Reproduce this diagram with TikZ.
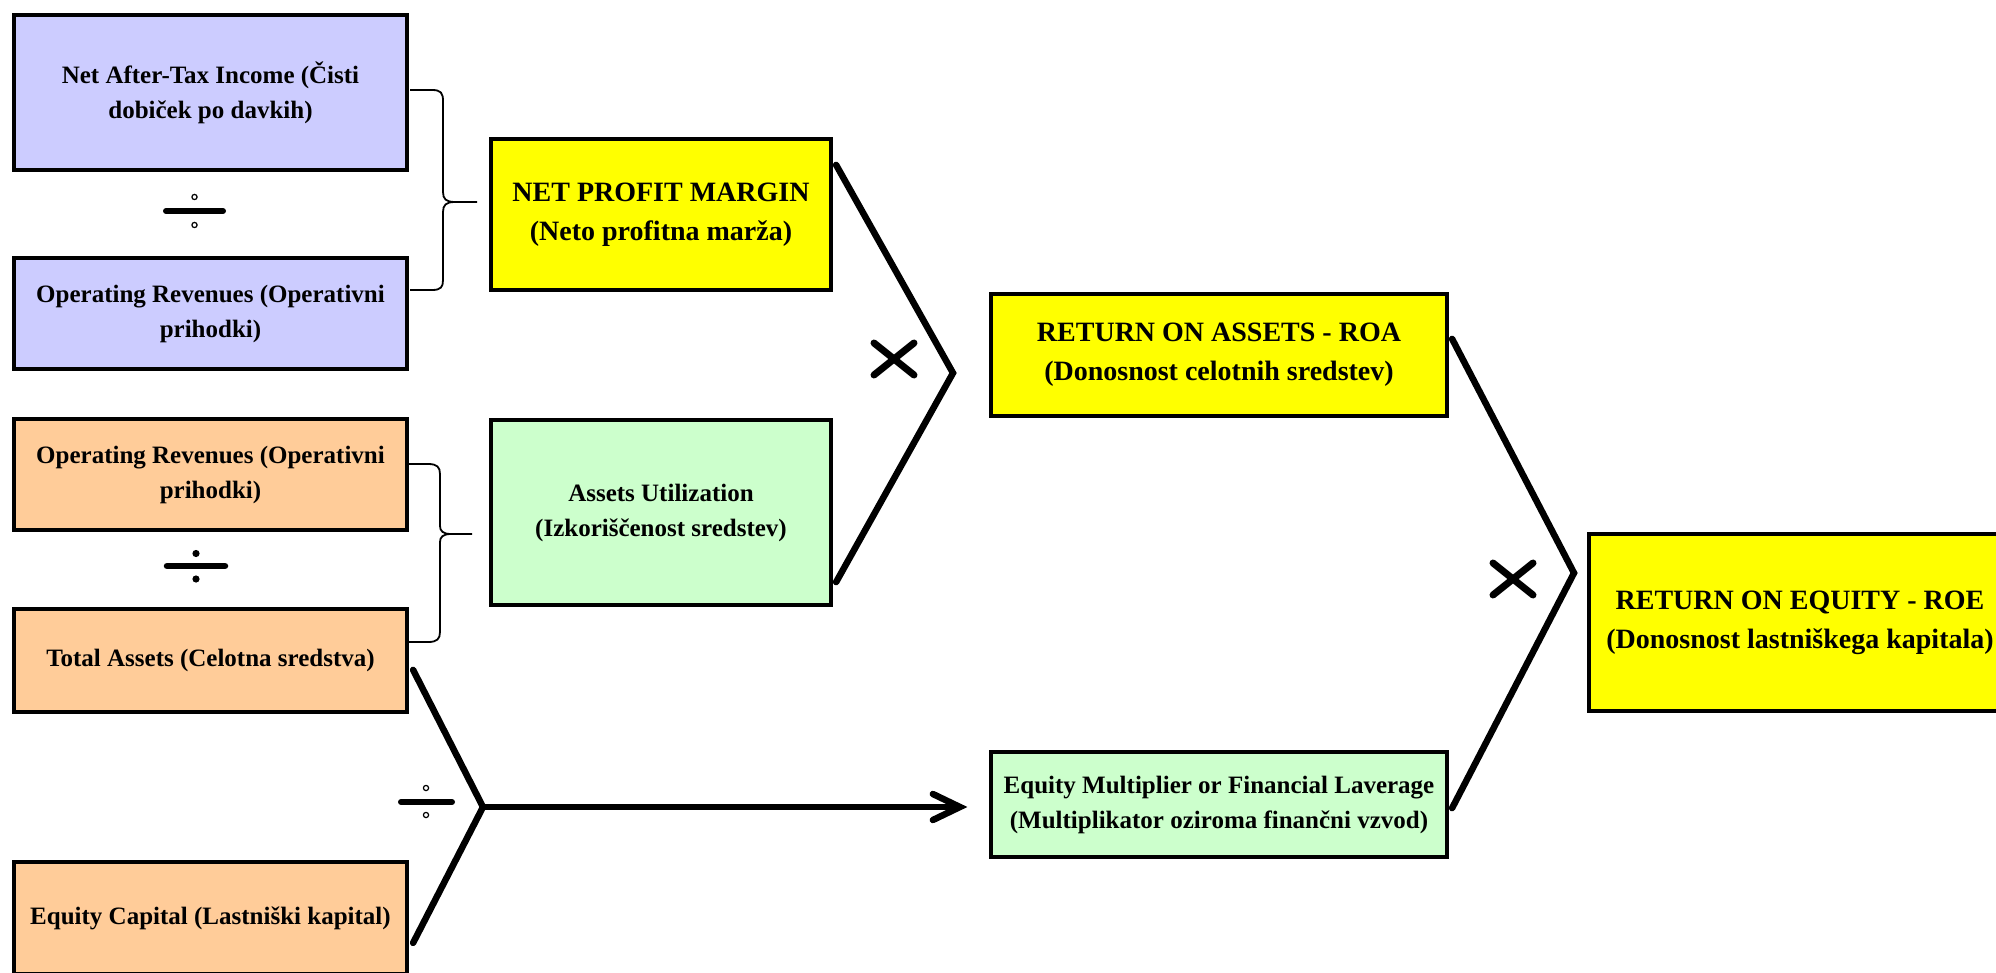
\documentclass[tikz,border=0pt]{standalone}
\usepackage{fontspec}
\setmainfont{Liberation Serif}
\usetikzlibrary{calc}
\definecolor{lav}{HTML}{CCCCFF}
\definecolor{peach}{HTML}{FFCC99}
\definecolor{mint}{HTML}{CCFFCC}
\definecolor{yel}{HTML}{FFFF00}
\begin{document}
\begin{tikzpicture}[x=1pt,y=-1pt,
 box/.style={draw=black, line width=4.2pt, inner sep=0pt, align=center, font=\bfseries\fontsize{25}{35}\selectfont},
 bigbox/.style={box, font=\bfseries\fontsize{28}{39}\selectfont},
 heavy/.style={line width=6.5pt, line cap=round, line join=miter},
 bracepath/.style={line width=1.8pt},
 divbar/.style={line width=6pt, line cap=round},
 hollowdot/.style={draw=black, fill=white, line width=1.2pt},
 timesmark/.style={line width=7pt, line cap=round}]
\useasboundingbox (0,0) rectangle (1996,973);
\clip (0,0) rectangle (1996,973);

% left boxes
\node[box, fill=lav, minimum width=393pt, minimum height=155pt] (ni) at (210.5,92.5) {Net After-Tax Income (Čisti\\dobiček po davkih)};
\node[box, fill=lav, minimum width=393pt, minimum height=111pt] (or1) at (210.5,313.5) {Operating Revenues (Operativni\\prihodki)};
\node[box, fill=peach, minimum width=393pt, minimum height=111pt] (or2) at (210.5,474.5) {Operating Revenues (Operativni\\prihodki)};
\node[box, fill=peach, minimum width=393pt, minimum height=103pt] (ta) at (210.5,660.5) {Total Assets (Celotna sredstva)};
\node[box, fill=peach, minimum width=393pt, minimum height=112pt] (ec) at (210.5,918) {Equity Capital (Lastniški kapital)};

% middle boxes
\node[bigbox, fill=yel, minimum width=340pt, minimum height=151pt] (npm) at (661,214.5) {NET PROFIT MARGIN\\(Neto profitna marža)};
\node[box, fill=mint, minimum width=340pt, minimum height=185pt] (au) at (661,512.5) {Assets Utilization\\(Izkoriščenost sredstev)};

% right boxes
\node[bigbox, fill=yel, minimum width=456pt, minimum height=122pt] (roa) at (1219,355) {RETURN ON ASSETS - ROA\\(Donosnost celotnih sredstev)};
\node[box, fill=mint, minimum width=456pt, minimum height=105pt] (em) at (1219,804.5) {Equity Multiplier or Financial Laverage\\(Multiplikator oziroma finančni vzvod)};
\node[bigbox, fill=yel, minimum width=422pt, minimum height=177pt] (roe) at (1800,622.5) {RETURN ON EQUITY - ROE\\(Donosnost lastniškega kapitala)};

% brace 1 (ni, or1 -> npm)
\coordinate (b1a) at (410,90);
\coordinate (b1b) at (410,290);
\coordinate (b1t) at (477,202);
\draw[bracepath] (b1a) -- (432,90) .. controls (441,90) and (443,93) .. (443,101) -- (443,192) .. controls (443,199) and (446,202) .. (455,202) -- (b1t);
\draw[bracepath] (455,202) .. controls (446,202) and (443,205) .. (443,212) -- (443,280) .. controls (443,287) and (441,290) .. (432,290) -- (b1b);

% brace 2 (or2, ta -> au)
\coordinate (b2a) at (408,464);
\coordinate (b2b) at (408,642);
\coordinate (b2t) at (472,534);
\draw[bracepath] (b2a) -- (428,464) .. controls (437,464) and (440,467) .. (440,474) -- (440,526) .. controls (440,531) and (443,534) .. (451,534) -- (b2t);
\draw[bracepath] (451,534) .. controls (443,534) and (440,537) .. (440,542) -- (440,632) .. controls (440,639) and (437,642) .. (428,642) -- (b2b);

% division signs
\draw[divbar] (166,211) -- (223,211);
\draw[hollowdot] (194.5,197) circle[radius=2.6pt];
\draw[hollowdot] (194.5,225) circle[radius=2.6pt];

\draw[divbar, line width=6.5pt] (167,566) -- (225,566);
\fill (196,553.5) circle[radius=3.6pt];
\fill (196,579) circle[radius=3.6pt];

\draw[divbar] (401,802) -- (452,802);
\draw[hollowdot] (426,788) circle[radius=2.6pt];
\draw[hollowdot] (426,815) circle[radius=2.6pt];

% V1: npm x au -> roa
\coordinate (v1a) at ($(npm.north east)+(3,28)$);
\coordinate (v1apex) at (953,373);
\coordinate (v1b) at ($(au.south east)+(3,-25)$);
\draw[heavy] (v1a) -- (v1apex) -- (v1b);
\draw[timesmark] (874,343) -- (914,375);
\draw[timesmark] (874,375) -- (914,343);

% V2: roa x em -> roe
\coordinate (v2a) at ($(roa.north east)+(3,47)$);
\coordinate (v2apex) at (1574,573);
\coordinate (v2b) at ($(em.south east)+(3,-51)$);
\draw[heavy] (v2a) -- (v2apex) -- (v2b);
\draw[timesmark] (1493,563) -- (1533,595);
\draw[timesmark] (1493,595) -- (1533,563);

% V3: ta / ec -> em
\coordinate (v3a) at ($(ta.north east)+(4,63)$);
\coordinate (v3apex) at (483,807);
\coordinate (v3b) at ($(ec.north east)+(4,83)$);
\draw[heavy] (v3a) -- (v3apex) -- (v3b);
\coordinate (arrtip) at ($(em.west |- v3apex)+(-29,0)$);
\draw[heavy] (v3apex) -- (arrtip);
\draw[heavy] ($(arrtip)+(-27,-13)$) -- (arrtip) -- ($(arrtip)+(-27,13)$);
\end{tikzpicture}
\end{document}
